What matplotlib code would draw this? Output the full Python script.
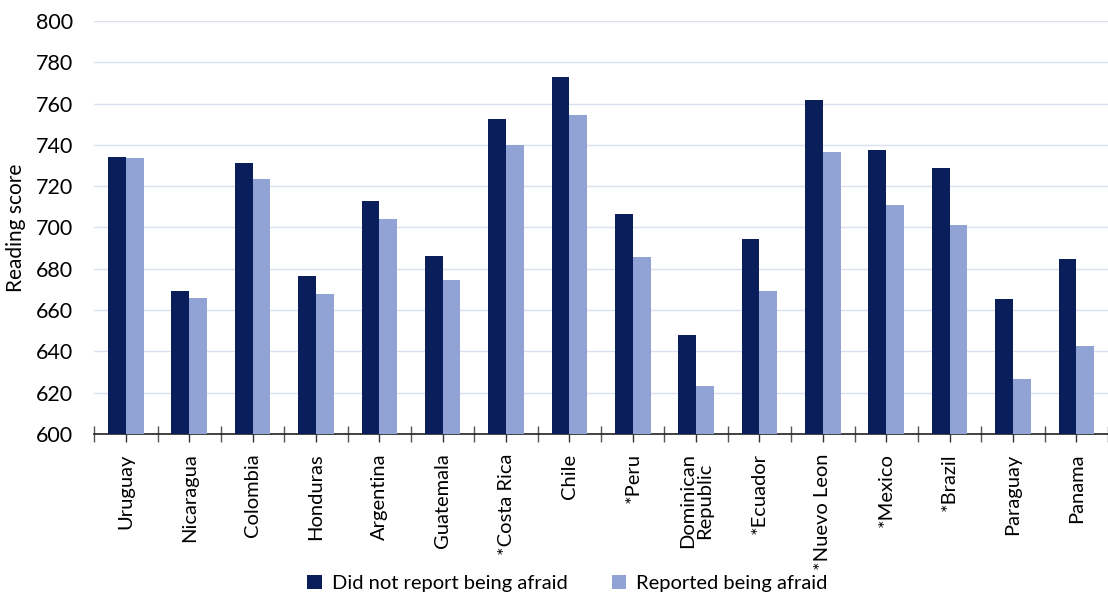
import numpy as np
import matplotlib.pyplot as plt
from matplotlib.ticker import MultipleLocator, FixedLocator

plt.rcParams['font.family'] = ['Lato', 'DejaVu Sans']

# Reading scores by country / state
paises = ['Uruguay', 'Nicaragua', 'Colombia', 'Honduras', 'Argentina', 'Guatemala',
          '*Costa Rica', 'Chile', '*Peru', 'Dominican\nRepublic', '*Ecuador',
          '*Nuevo Leon', '*Mexico', '*Brazil', 'Paraguay', 'Panama']
sin_miedo = [734.2, 669.0, 731.0, 676.5, 713.0, 686.0, 752.7, 772.8,
             706.3, 648.0, 694.3, 761.6, 737.4, 729.0, 665.3, 684.6]
con_miedo = [733.7, 665.8, 723.5, 668.0, 704.0, 674.6, 740.0, 754.4,
             685.7, 623.4, 669.0, 736.7, 711.0, 701.0, 626.6, 642.7]

color_oscuro = '#0A1E5B'
color_claro = '#90A3D4'

fig = plt.figure(figsize=(11.08, 5.97), dpi=100)
ax = fig.add_axes([0.085, 0.273, 0.915, 0.692])

x = np.arange(len(paises))
ancho = 0.28
ax.bar(x - ancho / 2, sin_miedo, ancho, color=color_oscuro, zorder=3,
       label='Did not report being afraid')
ax.bar(x + ancho / 2, con_miedo, ancho, color=color_claro, zorder=3,
       label='Reported being afraid')

ax.set_ylim(600, 800)
ax.set_xlim(-0.5, len(paises) - 0.5)
ax.yaxis.set_major_locator(MultipleLocator(20))
ax.grid(axis='y', color='#D9E0F0', linewidth=1.0, zorder=0)
ax.get_ygridlines()[-1].set_color('#EEF1F7')
ax.set_axisbelow(True)

for lado in ['top', 'right', 'left']:
    ax.spines[lado].set_visible(False)
ax.spines['bottom'].set_color('#222222')
ax.spines['bottom'].set_linewidth(1.2)

ax.set_xticks(x)
ax.set_xticklabels(paises, rotation=90, fontsize=14.5, linespacing=1.0)
ax.xaxis.set_minor_locator(FixedLocator(np.arange(-0.5, len(paises), 1.0)))
ax.tick_params(axis='x', which='major', direction='out', length=6,
               width=1, color='#333333', pad=8)
ax.tick_params(axis='x', which='minor', direction='inout', length=12,
               width=1, color='#555555')
ax.tick_params(axis='y', length=0, labelsize=15.5, pad=15)

ax.set_ylabel('Reading score', fontsize=15, labelpad=7)

fig.legend(loc='lower center', bbox_to_anchor=(0.512, -0.022), ncol=2,
           frameon=False, fontsize=14.5, handlelength=0.7, handleheight=0.7,
           handletextpad=0.5, columnspacing=2.2)

fig.savefig('out.png', dpi=100)
